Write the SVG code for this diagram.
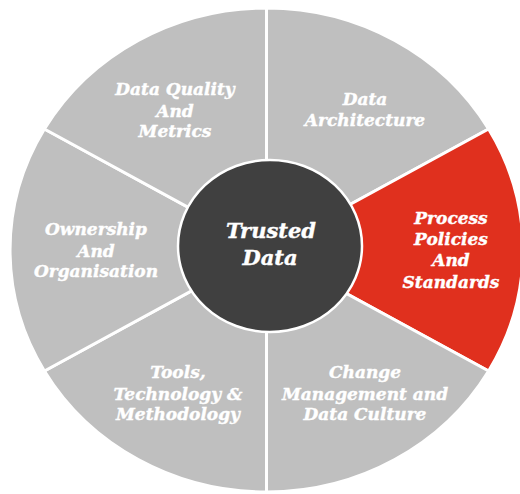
<svg xmlns="http://www.w3.org/2000/svg" width="520" height="494" viewBox="0 0 520 494">
<style>
.seg{fill:#BFBFBF;stroke:#FFFFFF;stroke-width:3;stroke-linejoin:miter}
.red{fill:#E0301E}
.lbl{font-family:"DejaVu Serif","Liberation Serif",serif;font-weight:bold;font-style:italic;font-size:17px;fill:#FFFFFF;stroke:#FFFFFF;stroke-width:0.4;text-anchor:middle}
.ctr{font-family:"DejaVu Serif","Liberation Serif",serif;font-weight:bold;font-style:italic;font-size:21px;fill:#FFFFFF;stroke:#FFFFFF;stroke-width:0.4;text-anchor:middle}
</style>
<rect width="520" height="494" fill="#FFFFFF"/>
<g id="seg-architecture">
<path class="seg" d="M266.5,250 L266.5,8 A256.5,242 0 0 1 488.6,129 Z"/>
<text class="lbl"><tspan x="365" y="105">Data</tspan><tspan x="365" y="126">Architecture</tspan></text>
</g>
<g id="seg-process">
<path class="seg red" d="M266.5,250 L488.6,129 A256.5,242 0 0 1 488.6,371 Z"/>
<text class="lbl"><tspan x="451" y="224">Process</tspan><tspan x="451" y="245">Policies</tspan><tspan x="451" y="266">And</tspan><tspan x="451" y="288">Standards</tspan></text>
</g>
<g id="seg-change">
<path class="seg" d="M266.5,250 L488.6,371 A256.5,242 0 0 1 266.5,492 Z"/>
<text class="lbl"><tspan x="365" y="378">Change</tspan><tspan x="365" y="400">Management and</tspan><tspan x="365" y="420">Data Culture</tspan></text>
</g>
<g id="seg-tools">
<path class="seg" d="M266.5,250 L266.5,492 A256.5,242 0 0 1 44.4,371 Z"/>
<text class="lbl"><tspan x="178" y="378">Tools,</tspan><tspan x="178" y="400">Technology &amp;</tspan><tspan x="178" y="420">Methodology</tspan></text>
</g>
<g id="seg-ownership">
<path class="seg" d="M266.5,250 L44.4,371 A256.5,242 0 0 1 44.4,129 Z"/>
<text class="lbl"><tspan x="96" y="235">Ownership</tspan><tspan x="96" y="257">And</tspan><tspan x="96" y="277">Organisation</tspan></text>
</g>
<g id="seg-quality">
<path class="seg" d="M266.5,250 L44.4,129 A256.5,242 0 0 1 266.5,8 Z"/>
<text class="lbl"><tspan x="175" y="95">Data Quality</tspan><tspan x="175" y="117">And</tspan><tspan x="175" y="137">Metrics</tspan></text>
</g>
<g id="center">
<ellipse cx="270" cy="246" rx="92" ry="86" fill="#404040" stroke="#FFFFFF" stroke-width="2.5"/>
<text class="ctr"><tspan x="271" y="238">Trusted</tspan><tspan x="270" y="265">Data</tspan></text>
</g>
</svg>
